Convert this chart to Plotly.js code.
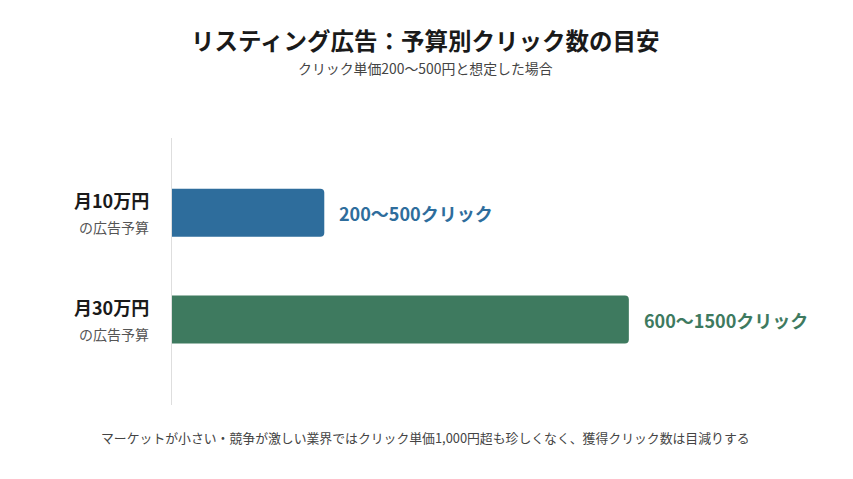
<!DOCTYPE html>
<html>
<head>
<meta charset="utf-8">
<script src="https://cdn.plot.ly/plotly-3.0.1.min.js"></script>
<style>
  html, body { margin: 0; padding: 0; background: #fff; }
  #chart { width: 853px; height: 479px; }
</style>
</head>
<body>
<div id="chart"></div>
<script>
// Budget tiers and the click estimate shown for each
const budgets = ['月10万円', '月30万円'];
const budgetSub = ['の広告予算', 'の広告予算'];
const clickMax = [500, 1500];
const clickLabels = ['200〜500クリック', '600〜1500クリック'];
const barColors = ['#2e6d9c', '#3e7a5f'];

const FONT = '"Noto Sans CJK JP", "Noto Sans", sans-serif';

const trace = {
  type: 'bar',
  orientation: 'h',
  y: budgets,
  x: clickMax,
  width: 0.45,
  marker: { color: barColors, line: { width: 0 } },
  hoverinfo: 'skip'
};

// Category labels left of the axis, value labels right of each bar
const annotations = [];
budgets.forEach((b, i) => {
  annotations.push({
    xref: 'paper', yref: 'y', x: 0, y: b, xanchor: 'right', yanchor: 'middle',
    xshift: -21, yshift: 13, showarrow: false,
    text: '<b>' + b + '</b>', font: { family: FONT, size: 18, color: '#1a1a1a' }
  });
  annotations.push({
    xref: 'paper', yref: 'y', x: 0, y: b, xanchor: 'right', yanchor: 'middle',
    xshift: -21, yshift: -14, showarrow: false,
    text: budgetSub[i], font: { family: FONT, size: 14, color: '#555' }
  });
  annotations.push({
    xref: 'x', yref: 'y', x: clickMax[i], y: b, xanchor: 'left', yanchor: 'middle',
    xshift: 13, showarrow: false,
    text: '<b>' + clickLabels[i] + '</b>', font: { family: FONT, size: 18, color: barColors[i] }
  });
});

// Title, subtitle and footnote
annotations.push({
  xref: 'paper', yref: 'paper', x: 0.423, y: 1.367, xanchor: 'center', yanchor: 'middle',
  showarrow: false, text: '<b>リスティング広告：予算別クリック数の目安</b>',
  font: { family: FONT, size: 23.5, color: '#1a1a1a' }
});
annotations.push({
  xref: 'paper', yref: 'paper', x: 0.423, y: 1.262, xanchor: 'center', yanchor: 'middle',
  showarrow: false, text: 'クリック単価200〜500円と想定した場合',
  font: { family: FONT, size: 13.9, color: '#444' }
});
annotations.push({
  xref: 'paper', yref: 'paper', x: 0.423, y: -0.12, xanchor: 'center', yanchor: 'middle',
  showarrow: false, text: 'マーケットが小さい・競争が激しい業界ではクリック単価1,000円超も珍しくなく、獲得クリック数は目減りする',
  font: { family: FONT, size: 12.85, color: '#444' }
});

const layout = {
  width: 853, height: 479,
  margin: { l: 172, r: 81, t: 138, b: 74 },
  paper_bgcolor: '#fff', plot_bgcolor: '#fff',
  font: { family: FONT },
  showlegend: false,
  barcornerradius: 4,
  xaxis: { range: [0, 1970], showgrid: false, zeroline: false, showticklabels: false, showline: false, fixedrange: true },
  yaxis: {
    range: [1.8, -0.7], showgrid: false, zeroline: false, showticklabels: false,
    showline: true, linecolor: '#dedede', linewidth: 1, ticks: '', fixedrange: true
  },
  annotations: annotations
};

Plotly.newPlot('chart', [trace], layout, { displayModeBar: false, staticPlot: true });
</script>
</body>
</html>
